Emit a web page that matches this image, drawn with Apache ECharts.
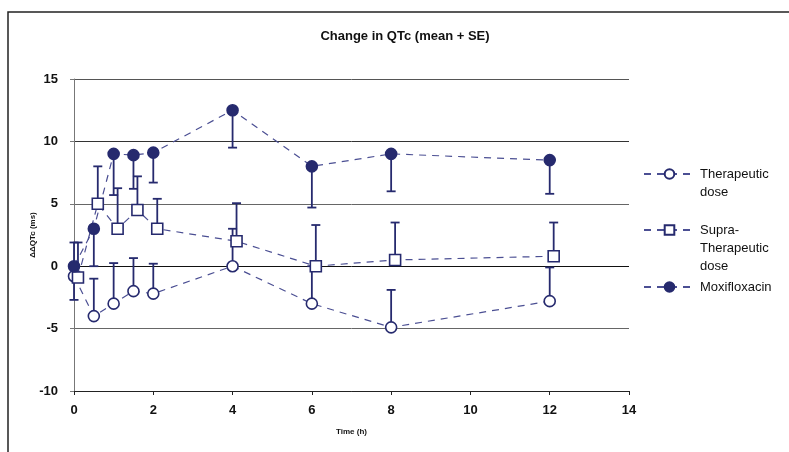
<!DOCTYPE html>
<html><head><meta charset="utf-8">
<script src="https://cdn.jsdelivr.net/npm/echarts@6/dist/echarts.min.js"></script>
<style>html,body{margin:0;padding:0;background:#fff}#c{width:789px;height:452px}</style>
</head><body><div id="c"></div>
<script>
const times = [0, 0.5, 1, 1.5, 2, 4, 6, 8, 12];
const supraOffset = 0.1;
const therapeutic = [-0.8, -4.0, -3.0, -2.0, -2.2, 0.0, -3.0, -4.9, -2.8];
const therapeuticSE = [2.7, 3.0, 3.25, 2.65, 2.4, 3.0, 3.0, 3.0, 2.7];
const supra = [-0.9, 5.0, 3.0, 4.5, 3.0, 2.0, 0.0, 0.5, 0.8];
const supraSE = [2.8, 3.0, 3.25, 2.7, 2.4, 3.05, 3.3, 3.0, 2.7];
const moxi = [0.0, 3.0, 9.0, 8.9, 9.1, 12.5, 8.0, 9.0, 8.5];
const moxiSE = [2.7, 3.0, 3.3, 2.7, 2.4, 3.0, 3.3, 3.0, 2.7];
const xTicks = [0, 2, 4, 6, 8, 10, 12, 14];
const yTicks = [-10, -5, 0, 5, 10, 15];

const NAVY = '#262a6e';
const DASH = '#4b4f93';
const FONT = 'Liberation Sans, Arial, sans-serif';

function pts(xs, ys, off) { return xs.map((x, i) => [x + off, ys[i]]); }
// error bar rows: [x, from(mean), to(cap)]
function bars(xs, ys, se, off, dir) { return xs.map((x, i) => [x + off, ys[i], ys[i] + dir * se[i]]); }

function renderBar(params, api) {
  const x = api.value(0), y0 = api.value(1), y1 = api.value(2);
  const p0 = api.coord([x, y0]), p1 = api.coord([x, y1]);
  const hw = 4.5;
  const st = { stroke: NAVY, lineWidth: 1.8 };
  return { type: 'group', children: [
    { type: 'line', shape: { x1: p0[0], y1: p0[1], x2: p1[0], y2: p1[1] }, style: st },
    { type: 'line', shape: { x1: p1[0] - hw, y1: p1[1], x2: p1[0] + hw, y2: p1[1] }, style: st }
  ]};
}

function lineSeries(name, data, symbol, filled) {
  return {
    name, type: 'line', data, symbol, symbolSize: 11, z: 5,
    lineStyle: { color: DASH, width: 1.2, type: [7, 6] },
    itemStyle: { color: filled ? NAVY : '#fff', borderColor: NAVY, borderWidth: 1.6 },
    emphasis: { disabled: true }, animation: false
  };
}
function barSeries(data) {
  return { type: 'custom', data, renderItem: renderBar, z: 3, animation: false, silent: true };
}

const LH = 18;
const legendBase = {
  orient: 'vertical', left: 643, itemWidth: 51, itemHeight: 12, itemGap: 0, padding: 0,
  textStyle: { fontFamily: FONT, fontSize: 13, color: '#111', lineHeight: LH },
  selectedMode: false
};

const chart = echarts.init(document.getElementById('c'), null, { renderer: 'canvas' });
chart.setOption({
  animation: false,
  backgroundColor: '#fff',
  title: {
    text: 'Change in QTc (mean + SE)', left: 400, top: 25, textAlign: 'center',
    textStyle: { fontFamily: FONT, fontSize: 13, fontWeight: 'bold', color: '#111' }
  },
  graphic: [{ type: 'rect', shape: { x: 8, y: 12, width: 900, height: 600 },
    style: { fill: 'none', stroke: '#222', lineWidth: 1.5 }, silent: true }],
  legend: [
    Object.assign({}, legendBase, { data: ['Therapeutic dose'], top: 174 - 1.5 * LH,
      formatter: '\nTherapeutic\ndose' }),
    Object.assign({}, legendBase, { data: ['Supra-Therapeutic dose'], top: 230 - 2.5 * LH,
      formatter: '\n\nSupra-\nTherapeutic\ndose' }),
    Object.assign({}, legendBase, { data: ['Moxifloxacin'], top: 287 - 0.5 * LH,
      formatter: 'Moxifloxacin' })
  ],
  grid: { left: 74, right: 160, top: 79, bottom: 61 },
  xAxis: {
    type: 'value', min: xTicks[0], max: xTicks[xTicks.length - 1], interval: 2,
    name: 'Time (h)', nameLocation: 'middle', nameGap: 37,
    nameTextStyle: { fontFamily: FONT, fontSize: 8, fontWeight: 'bold', color: '#111' },
    axisLine: { onZero: false, lineStyle: { color: '#222', width: 1 } },
    axisTick: { show: true, length: 4, lineStyle: { color: '#222' } },
    axisLabel: { fontFamily: FONT, fontSize: 13, fontWeight: 'bold', color: '#111', margin: 13 },
    splitLine: { show: false }
  },
  yAxis: {
    type: 'value', min: yTicks[0], max: yTicks[yTicks.length - 1], interval: 5,
    name: 'ΔΔQTc (ms)', nameLocation: 'middle', nameGap: 37, nameRotate: 90, nameMoveOverlap: false,
    nameTextStyle: { fontFamily: FONT, fontSize: 8, fontWeight: 'bold', color: '#111' },
    axisLine: { show: true, onZero: false, lineStyle: { color: '#777', width: 1 } },
    axisTick: { show: true, length: 4, lineStyle: { color: '#777' } },
    axisLabel: { fontFamily: FONT, fontSize: 13, fontWeight: 'bold', color: '#111', margin: 16 },
    splitLine: { show: true, lineStyle: { color: ['#444', '#666', '#111', '#666', '#333', '#555'], width: 1 } }
  },
  series: [
    barSeries(bars(times, therapeutic, therapeuticSE, 0, 1)),
    barSeries(bars(times, supra, supraSE, supraOffset, 1)),
    barSeries(bars(times, moxi, moxiSE, 0, -1)),
    lineSeries('Therapeutic dose', pts(times, therapeutic, 0), 'circle', false),
    lineSeries('Supra-Therapeutic dose', pts(times, supra, supraOffset), 'rect', false),
    lineSeries('Moxifloxacin', pts(times, moxi, 0), 'circle', true)
  ]
});
</script></body></html>
